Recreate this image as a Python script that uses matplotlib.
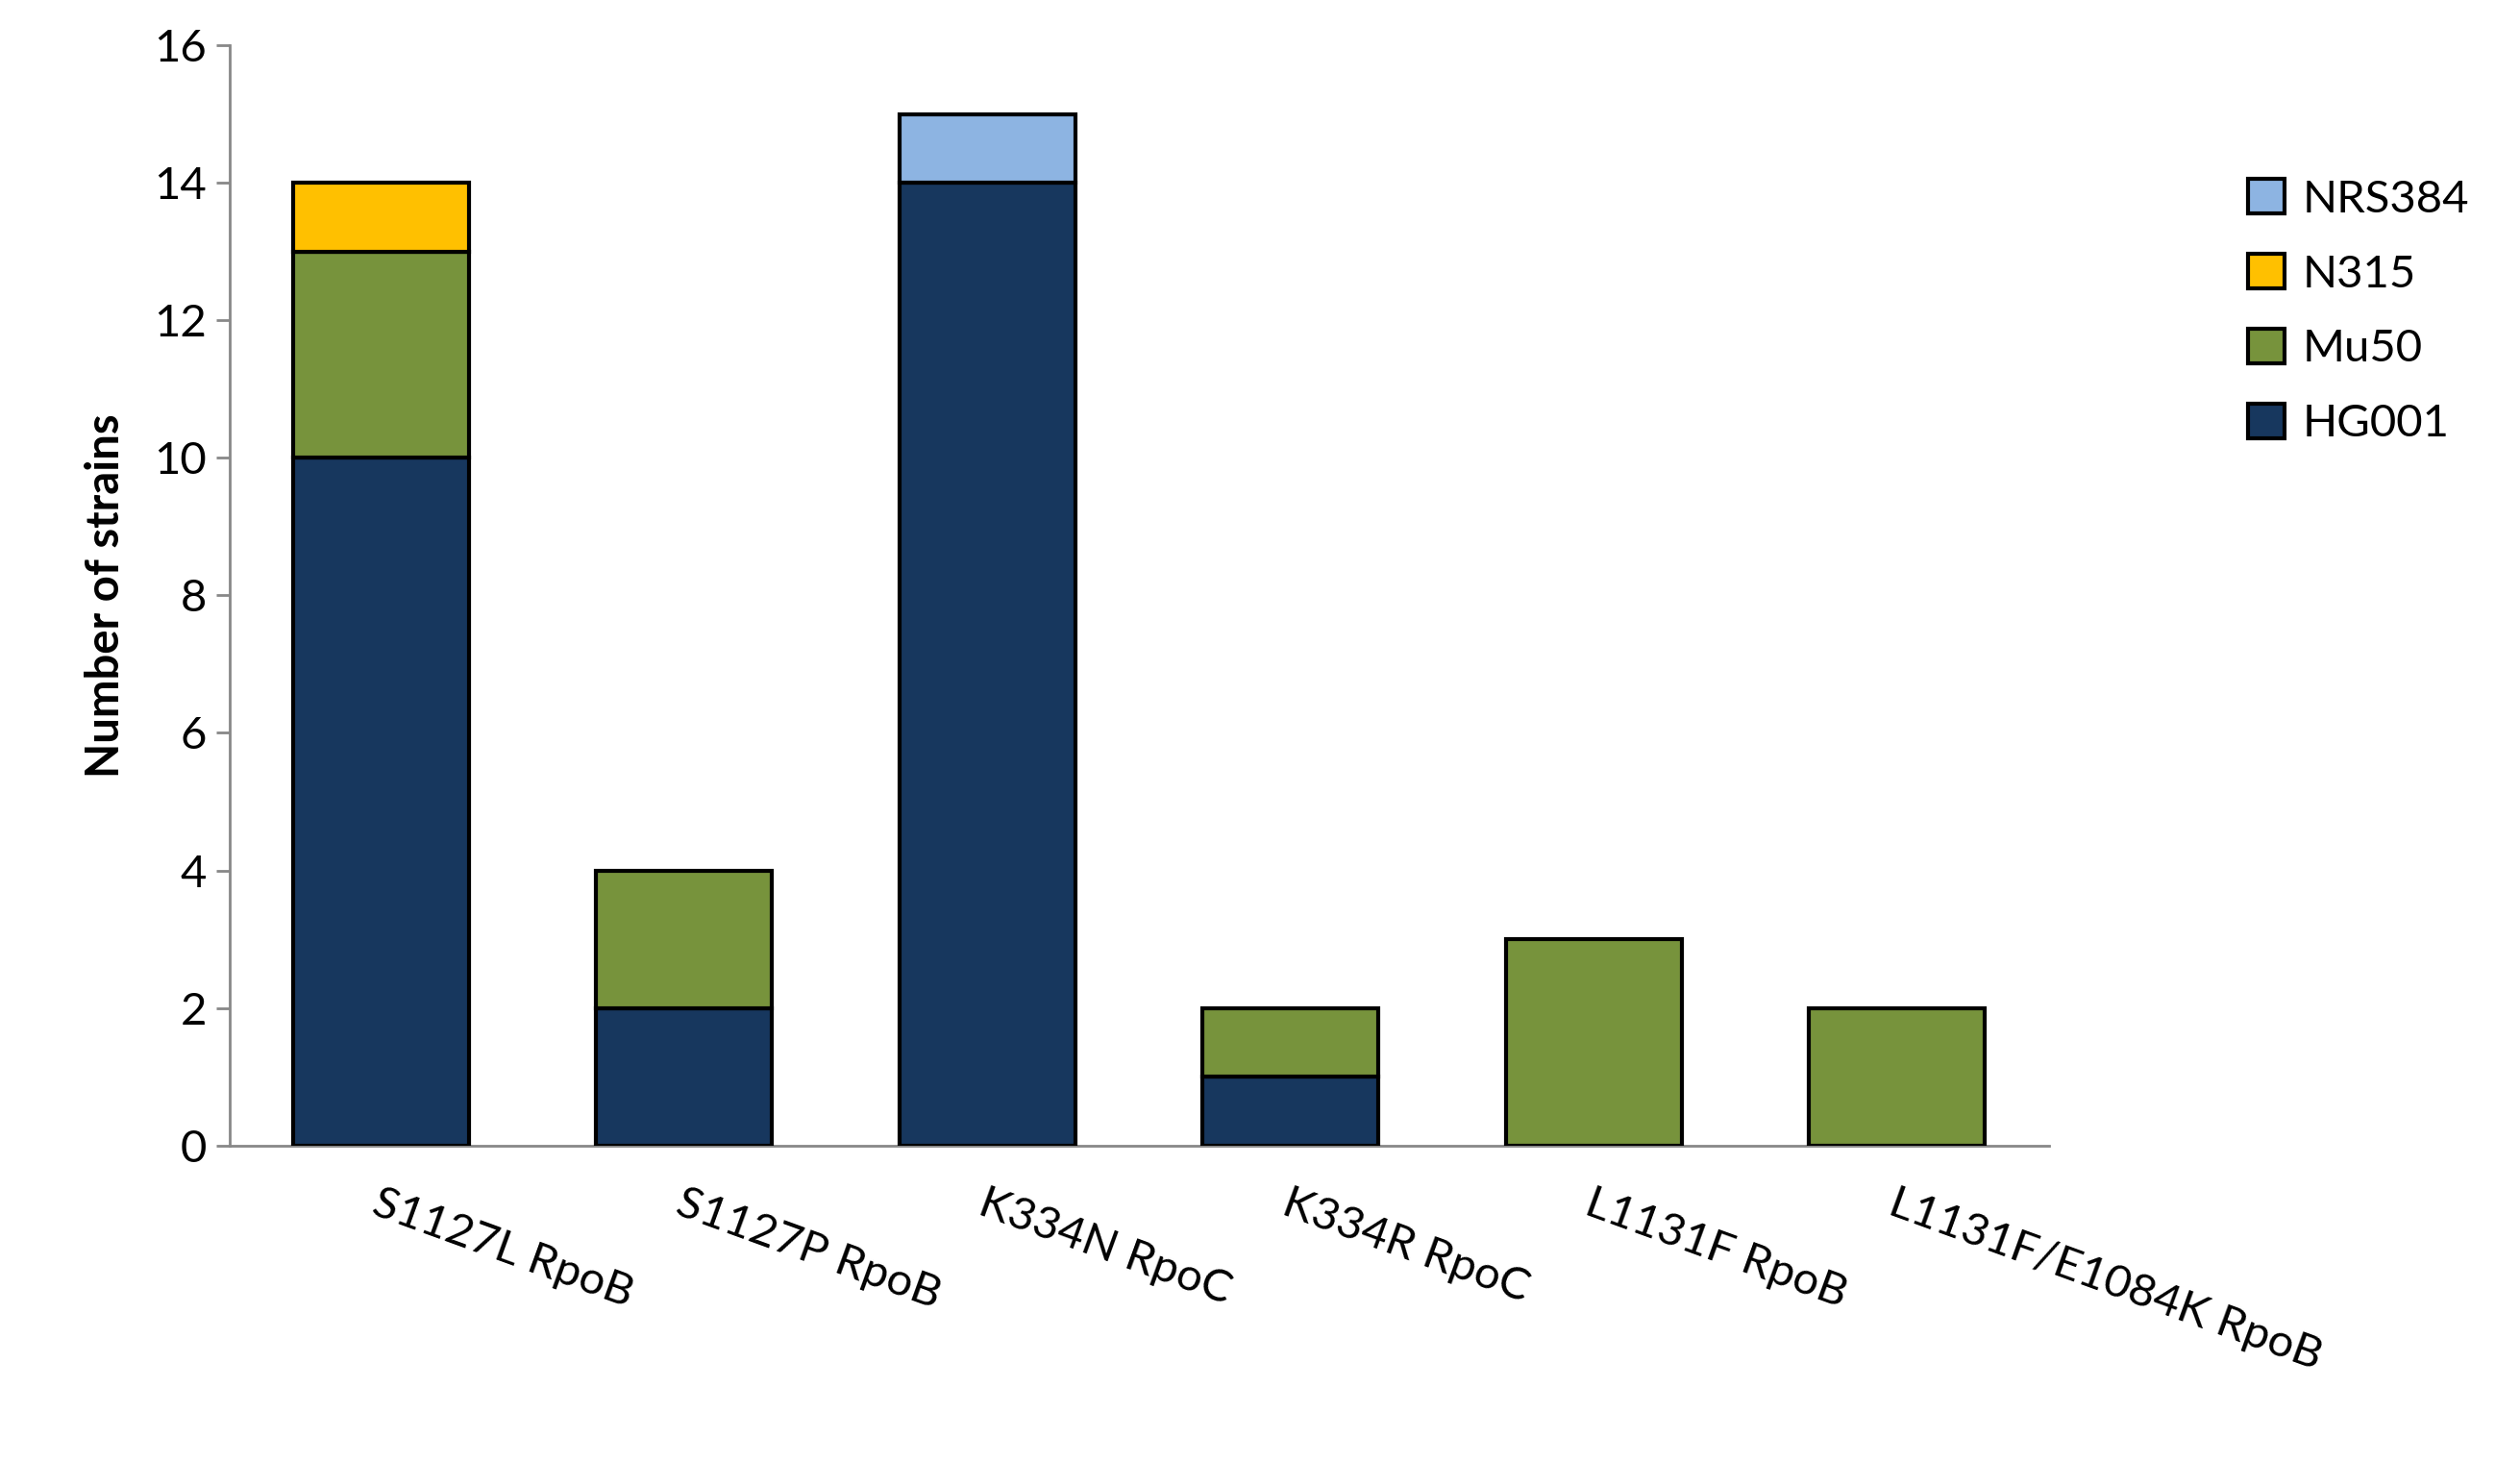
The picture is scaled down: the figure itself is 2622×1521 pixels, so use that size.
import numpy as np
import matplotlib.pyplot as plt

plt.rcParams['font.family'] = ['Lato', 'DejaVu Sans']

mutations = ['S1127L RpoB', 'S1127P RpoB', 'K334N RpoC', 'K334R RpoC',
             'L1131F RpoB', 'L1131F/E1084K RpoB']
strains = ['HG001', 'Mu50', 'N315', 'NRS384']
hg001 = [10, 2, 14, 1, 0, 0]
mu50 = [3, 2, 0, 1, 3, 2]
n315 = [1, 0, 0, 0, 0, 0]
nrs384 = [0, 0, 1, 0, 0, 0]
colors = ['#17375E', '#77933C', '#FFC000', '#8DB4E2']

fig = plt.figure(figsize=(13.11, 7.605), dpi=200)
ax = fig.add_axes([0.091, 0.2165, 0.722, 0.7525])

x = np.arange(len(mutations))
bottom = np.zeros(len(mutations))
handles = []
for name, vals, c in zip(strains, [hg001, mu50, n315, nrs384], colors):
    vals = np.array(vals, dtype=float)
    mask = vals > 0
    bars = ax.bar(x[mask], vals[mask], 0.58, bottom=bottom[mask], color=c,
                  edgecolor='black', linewidth=1.5, label=name, zorder=3)
    handles.append(bars)
    bottom += vals

ax.set_xlim(-0.5, 5.5)
ax.set_ylim(0, 16)
ax.set_yticks(range(0, 17, 2))
ax.set_xticks(x)
ax.set_xticklabels(mutations, rotation=-20, ha='left', va='top',
                   rotation_mode='anchor', fontsize=17)
ax.tick_params(axis='x', length=0, pad=14)
ax.tick_params(axis='y', labelsize=17, length=5, color='#888888', width=1)
for s in ['top', 'right']:
    ax.spines[s].set_visible(False)
for s in ['left', 'bottom']:
    ax.spines[s].set_color('#888888')
    ax.spines[s].set_linewidth(1)
ax.set_ylabel('Number of strains', fontsize=17, fontweight='bold', labelpad=10)

fig.legend(handles[::-1], strains[::-1], loc='upper left',
           bbox_to_anchor=(0.885, 0.89), frameon=False, fontsize=17,
           handlelength=0.8, handleheight=0.8, labelspacing=0.75,
           handletextpad=0.4, borderaxespad=0)

fig.savefig('out.png', dpi=200)
